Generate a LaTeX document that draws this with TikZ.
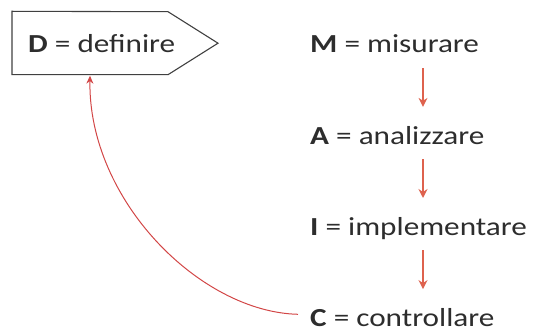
\documentclass[tikz,border=0pt]{standalone}
\usepackage{fontspec}
\setmainfont[FakeStretch=1.2]{Carlito}
\usetikzlibrary{arrows.meta, positioning}
\definecolor{textgrey}{RGB}{45,45,45}
\definecolor{arrowred}{RGB}{222,98,78}
\definecolor{loopred}{RGB}{210,70,70}

\begin{document}
\begin{tikzpicture}[x=1pt, y=-1pt, >=Stealth]
  \tikzset{
    step word/.style={inner xsep=8pt, inner ysep=3pt, text height=20pt, text depth=0pt,
      font=\fontsize{26}{32}\selectfont, text=textgrey},
    box edge/.style={draw=black!75, line width=1.1pt, line join=miter},
    flow/.style={arrowred, line width=2.2pt, shorten <=12pt, shorten >=14pt,
      -{Stealth[length=9pt, width=9pt]}},
    back/.style={loopred, line width=1pt, -{Stealth[length=8pt, width=7pt]}}
  }
  \useasboundingbox (0,0) rectangle (533,331);
  % D box with pointer
  \node[step word, inner xsep=16pt, inner ysep=21.5pt, anchor=base west]
    (dnode) at (12,53) {\textbf{D} = definire};
  \draw[box edge] (dnode.south west) -- ++(156,0) -- ++(50,-31.5) -- ++(-50,-31.5)
    -- (dnode.north west) -- cycle;
  % M-A-I-C column
  \node[step word, anchor=base west] (mnode) at (302,53) {\textbf{M} = misurare};
  \node[step word, below right=64.7pt and 0pt of mnode.south west] (anode) {\textbf{A} = analizzare};
  \node[step word, below right=64.7pt and 0pt of anode.south west] (inode) {\textbf{I} = implementare};
  \node[step word, below right=64.7pt and 0pt of inode.south west] (cnode) {\textbf{C} = controllare};
  \coordinate (col) at (423,0);
  \coordinate (dfoot) at (90,0);
  \draw[flow] (mnode.south -| col) -- (anode.north -| col);
  \draw[flow] (anode.south -| col) -- (inode.north -| col);
  \draw[flow] (inode.south -| col) -- (cnode.north -| col);
  % back to D
  \draw[back] ([xshift=-4pt, yshift=2pt]cnode.west) .. controls (200,312) and (88,200) .. ([yshift=-1pt]dnode.south -| dfoot);
\end{tikzpicture}
\end{document}
